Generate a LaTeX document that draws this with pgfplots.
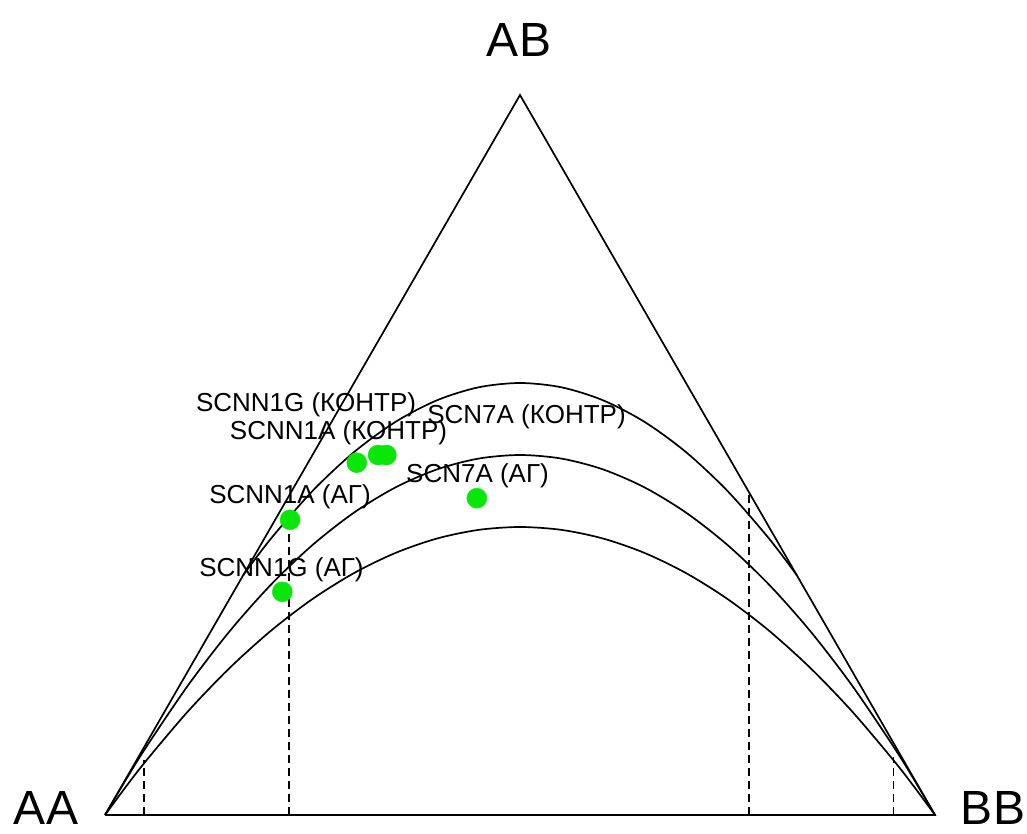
\documentclass[border=0pt]{standalone}
\usepackage{fontspec}
\setmainfont{Liberation Sans}
\usepackage{pgfplots}
\pgfplotsset{compat=1.18}
\definecolor{ptgreen}{RGB}{10,230,10}
\begin{document}
\begin{tikzpicture}
\path[use as bounding box] (0,0) rectangle (1027bp,834bp);
\begin{axis}[
  at={(105bp,19bp)}, anchor=south west,
  width=830bp, height=720bp, scale only axis,
  xmin=0, xmax=1, ymin=0, ymax=1,
  hide axis, clip=false,
]
% triangle
\addplot[black, line width=1.7bp] coordinates {(0,0) (0.5,1) (1,0) (0,0)};
% F = -0.2 curve (clipped to triangle)
\addplot[black, line width=1.7bp, smooth] coordinates {
(0.16667,0.33333) (0.2,0.384) (0.25,0.45) (0.3,0.504) (0.35,0.546) (0.4,0.576) (0.45,0.594) (0.5,0.6)
(0.55,0.594) (0.6,0.576) (0.65,0.546) (0.7,0.504) (0.75,0.45) (0.8,0.384) (0.83333,0.33333)};
% HWE curve
\addplot[black, line width=1.7bp, smooth] coordinates {
(0,0) (0.025,0.04875) (0.05,0.095) (0.1,0.18) (0.15,0.255) (0.2,0.32) (0.25,0.375) (0.3,0.42) (0.35,0.455) (0.4,0.48) (0.45,0.495) (0.5,0.5)
(0.55,0.495) (0.6,0.48) (0.65,0.455) (0.7,0.42) (0.75,0.375) (0.8,0.32) (0.85,0.255) (0.9,0.18) (0.95,0.095) (0.975,0.04875) (1,0)};
% F = 0.2 curve
\addplot[black, line width=1.7bp, smooth] coordinates {
(0,0) (0.025,0.039) (0.05,0.076) (0.1,0.144) (0.15,0.204) (0.2,0.256) (0.25,0.3) (0.3,0.336) (0.35,0.364) (0.4,0.384) (0.45,0.396) (0.5,0.4)
(0.55,0.396) (0.6,0.384) (0.65,0.364) (0.7,0.336) (0.75,0.3) (0.8,0.256) (0.85,0.204) (0.9,0.144) (0.95,0.076) (0.975,0.039) (1,0)};
% dashed verticals
\addplot[black, line width=1.7bp, dash pattern=on 8bp off 5bp] coordinates {(0.0473,0) (0.0473,0.077)};
\addplot[black, line width=1.7bp, dash pattern=on 8bp off 5bp] coordinates {(0.222,0) (0.222,0.41)};
\addplot[black, line width=1.7bp, dash pattern=on 8bp off 5bp] coordinates {(0.776,0) (0.776,0.448)};
\addplot[black, line width=1.7bp, dash pattern=on 8bp off 5bp] coordinates {(0.950,0) (0.950,0.08)};
% points
\addplot[only marks, mark=*, mark size=10bp, color=ptgreen, mark options={fill=ptgreen, draw=ptgreen}] coordinates {
(0.3033,0.4893) (0.329,0.5) (0.339,0.5) (0.448,0.440) (0.223,0.410) (0.2136,0.310)};
\end{axis}
% labels
\begin{scope}[every node/.style={inner sep=0pt, anchor=base, font=\fontsize{26bp}{30bp}\selectfont}]
\node at (306bp,422bp) {SCNN1G (КОНТР)};
\node at (338.5bp,394bp) {SCNN1A (КОНТР)};
\node at (526.5bp,410bp) {SCN7A (КОНТР)};
\node at (290bp,330bp) {SCNN1A (АГ)};
\node at (477.5bp,351bp) {SCN7A (АГ)};
\node at (281.5bp,257bp) {SCNN1G (АГ)};
\end{scope}
\begin{scope}[every node/.style={inner sep=0pt, anchor=base, font=\fontsize{48bp}{56bp}\selectfont}]
\node at (519bp,777bp) {AB};
\node at (46bp,10bp) {AA};
\node at (993bp,10bp) {BB};
\end{scope}
\end{tikzpicture}
\end{document}
